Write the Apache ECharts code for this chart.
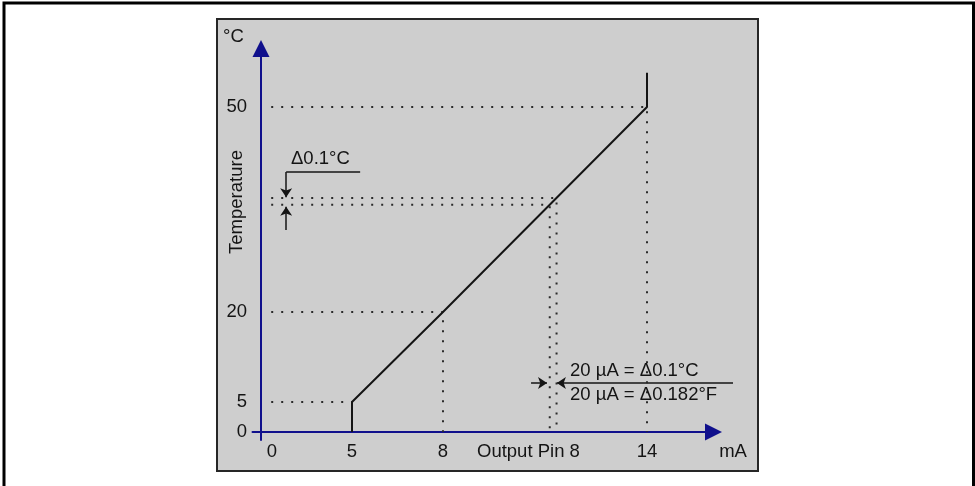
<!DOCTYPE html>
<html>
<head>
<meta charset="utf-8">
<script src="https://cdn.jsdelivr.net/npm/echarts@6/dist/echarts.min.js"></script>
<style>
  html, body { margin: 0; padding: 0; background: #fff; }
  #chart { width: 975px; height: 486px; }
</style>
</head>
<body>
<div id="chart"></div>
<script>
// transfer curve: current (mA) -> temperature (°C)
const curveX = [5, 5, 8, 14, 14];
const curveY = [0, 5, 20, 50, 55];
const xTicks = [0, 5, 8, 14];
const yTicks = [0, 5, 20, 50];
// dotted guides from the y axis to the curve and down to the x axis
const guideTemps = [50, 20, 5];
const guideCurrents = [14, 8, 5];
// the two close levels that show one 0.1 °C step
const deltaTemps = [35.7, 36.7];
const deltaCurrents = [11.14, 11.34];
// annotation leaders [x1, y1, x2, y2], arrow at the second point
const plainLeaders = [[0.74, 40.5, 5.24, 40.5]];
const arrowLeaders = [
  [0.74, 40.5, 0.74, 36.8],
  [0.74, 32.0, 0.74, 35.4],
  [10.59, 7.78, 11.06, 7.78],
  [16.53, 7.78, 11.35, 7.78]
];

const AXIS = "#10108c";
const INK = "#141414";
const FONT = "Liberation Sans, Arial, sans-serif";
const FS = 18.5;

const chart = echarts.init(document.getElementById("chart"));

const guideSeries = guideTemps.map((t, i) => {
  const c = guideCurrents[i];
  const pts = [[0.3, t], [c, t]];
  if (c !== 5) pts.push([c, 0]);
  return pts;
});
deltaTemps.forEach((t, i) => {
  guideSeries.push([[0.3, t], [deltaCurrents[i], t], [deltaCurrents[i], 0]]);
});

const series = [
  {
    type: "line",
    data: curveX.map((x, i) => [x, curveY[i]]),
    showSymbol: false,
    lineStyle: { color: INK, width: 2 },
    z: 5
  },
  ...guideSeries.map(pts => ({
    type: "line",
    data: pts,
    showSymbol: false,
    lineStyle: { color: "#2a2a2a", width: 2, type: [2, 8] },
    z: 3
  })),
  {
    type: "lines",
    coordinateSystem: "cartesian2d",
    clip: false,
    symbol: ["none", "none"],
    lineStyle: { color: INK, width: 1.5, opacity: 1, curveness: 0 },
    data: plainLeaders.map(l => ({ coords: [[l[0], l[1]], [l[2], l[3]]] }))
  },
  {
    type: "lines",
    coordinateSystem: "cartesian2d",
    clip: false,
    symbol: ["none", "arrow"],
    symbolSize: [7, 9],
    lineStyle: { color: INK, width: 1.5, opacity: 1, curveness: 0 },
    data: arrowLeaders.map(l => ({ coords: [[l[0], l[1]], [l[2], l[3]]] }))
  }
];

const txt = (text, x, y, align, extra) => Object.assign({
  type: "text",
  x: x,
  y: y,
  z: 20,
  style: {
    text: text,
    fontSize: FS,
    fontFamily: FONT,
    fill: INK,
    align: align,
    textAlign: align,
    verticalAlign: "middle",
    textVerticalAlign: "middle"
  }
}, extra || {});

// hidden line on the broken axes (they only place the labels)
const ghostLine = { onZero: false, symbol: "none", lineStyle: { opacity: 0 } };
// arrowed axis lines drawn on a plain overlay grid
const arrowLine = {
  onZero: true,
  symbol: ["none", "triangle"],
  symbolSize: [17, 17],
  lineStyle: { color: AXIS, width: 2 }
};
const bare = { splitLine: { show: false }, axisTick: { show: false }, axisLabel: { show: false } };

chart.setOption({
  animation: false,
  grid: [
    { left: 252.5, right: 260, top: 48.5, bottom: 46 },
    { left: 252.5, right: 261.5, top: 48.5, bottom: 46 }
  ],
  xAxis: [
    {
      type: "value",
      min: -0.25,
      max: 16,
      breaks: [
        { start: 1.5, end: 4.5, gap: 0.676 },
        { start: 5.5, end: 7.5, gap: 1.676 }
      ],
      breakArea: { show: false },
      splitLine: { show: false },
      axisTick: { show: false },
      axisLine: ghostLine,
      axisLabel: {
        customValues: xTicks,
        margin: 2,
        fontSize: FS,
        fontFamily: FONT,
        color: INK,
        formatter: v => (v === 0 ? "{z|0}" : String(v)),
        rich: { z: { padding: [0, 0, 0, 22], fontSize: FS, fontFamily: FONT, color: INK } }
      }
    },
    Object.assign({ type: "value", gridIndex: 1, min: -1, max: 53.24, axisLine: arrowLine }, bare)
  ],
  yAxis: [
    {
      type: "value",
      min: -1.17,
      max: 58.56,
      breaks: [
        { start: 1, end: 4, gap: 2.39 },
        { start: 9, end: 19, gap: 8.17 }
      ],
      breakArea: { show: false },
      splitLine: { show: false },
      axisTick: { show: false },
      axisLine: ghostLine,
      axisLabel: {
        customValues: yTicks,
        margin: 5.5,
        fontSize: FS,
        fontFamily: FONT,
        color: INK
      }
    },
    Object.assign({ type: "value", gridIndex: 1, min: -1, max: 47.94, axisLine: arrowLine }, bare)
  ],
  graphic: [
    {
      type: "rect",
      z: -10,
      shape: { x: 4, y: 3, width: 969.5, height: 500 },
      style: { fill: "#fff", stroke: "#000", lineWidth: 3 }
    },
    {
      type: "rect",
      z: -9,
      shape: { x: 217, y: 19, width: 541, height: 452 },
      style: { fill: "#cecece", stroke: "#262626", lineWidth: 2 }
    },
    txt("°C", 223, 37, "left"),
    txt("Temperature", 237, 202, "center", { rotation: Math.PI / 2 }),
    txt("Output Pin 8", 477, 452, "left"),
    txt("mA", 733, 452, "center"),
    txt("Δ0.1°C", 291, 159, "left"),
    txt("20 µA = Δ0.1°C", 570, 371, "left"),
    txt("20 µA = Δ0.182°F", 570, 395, "left")
  ],
  series: series
});
</script>
</body>
</html>
